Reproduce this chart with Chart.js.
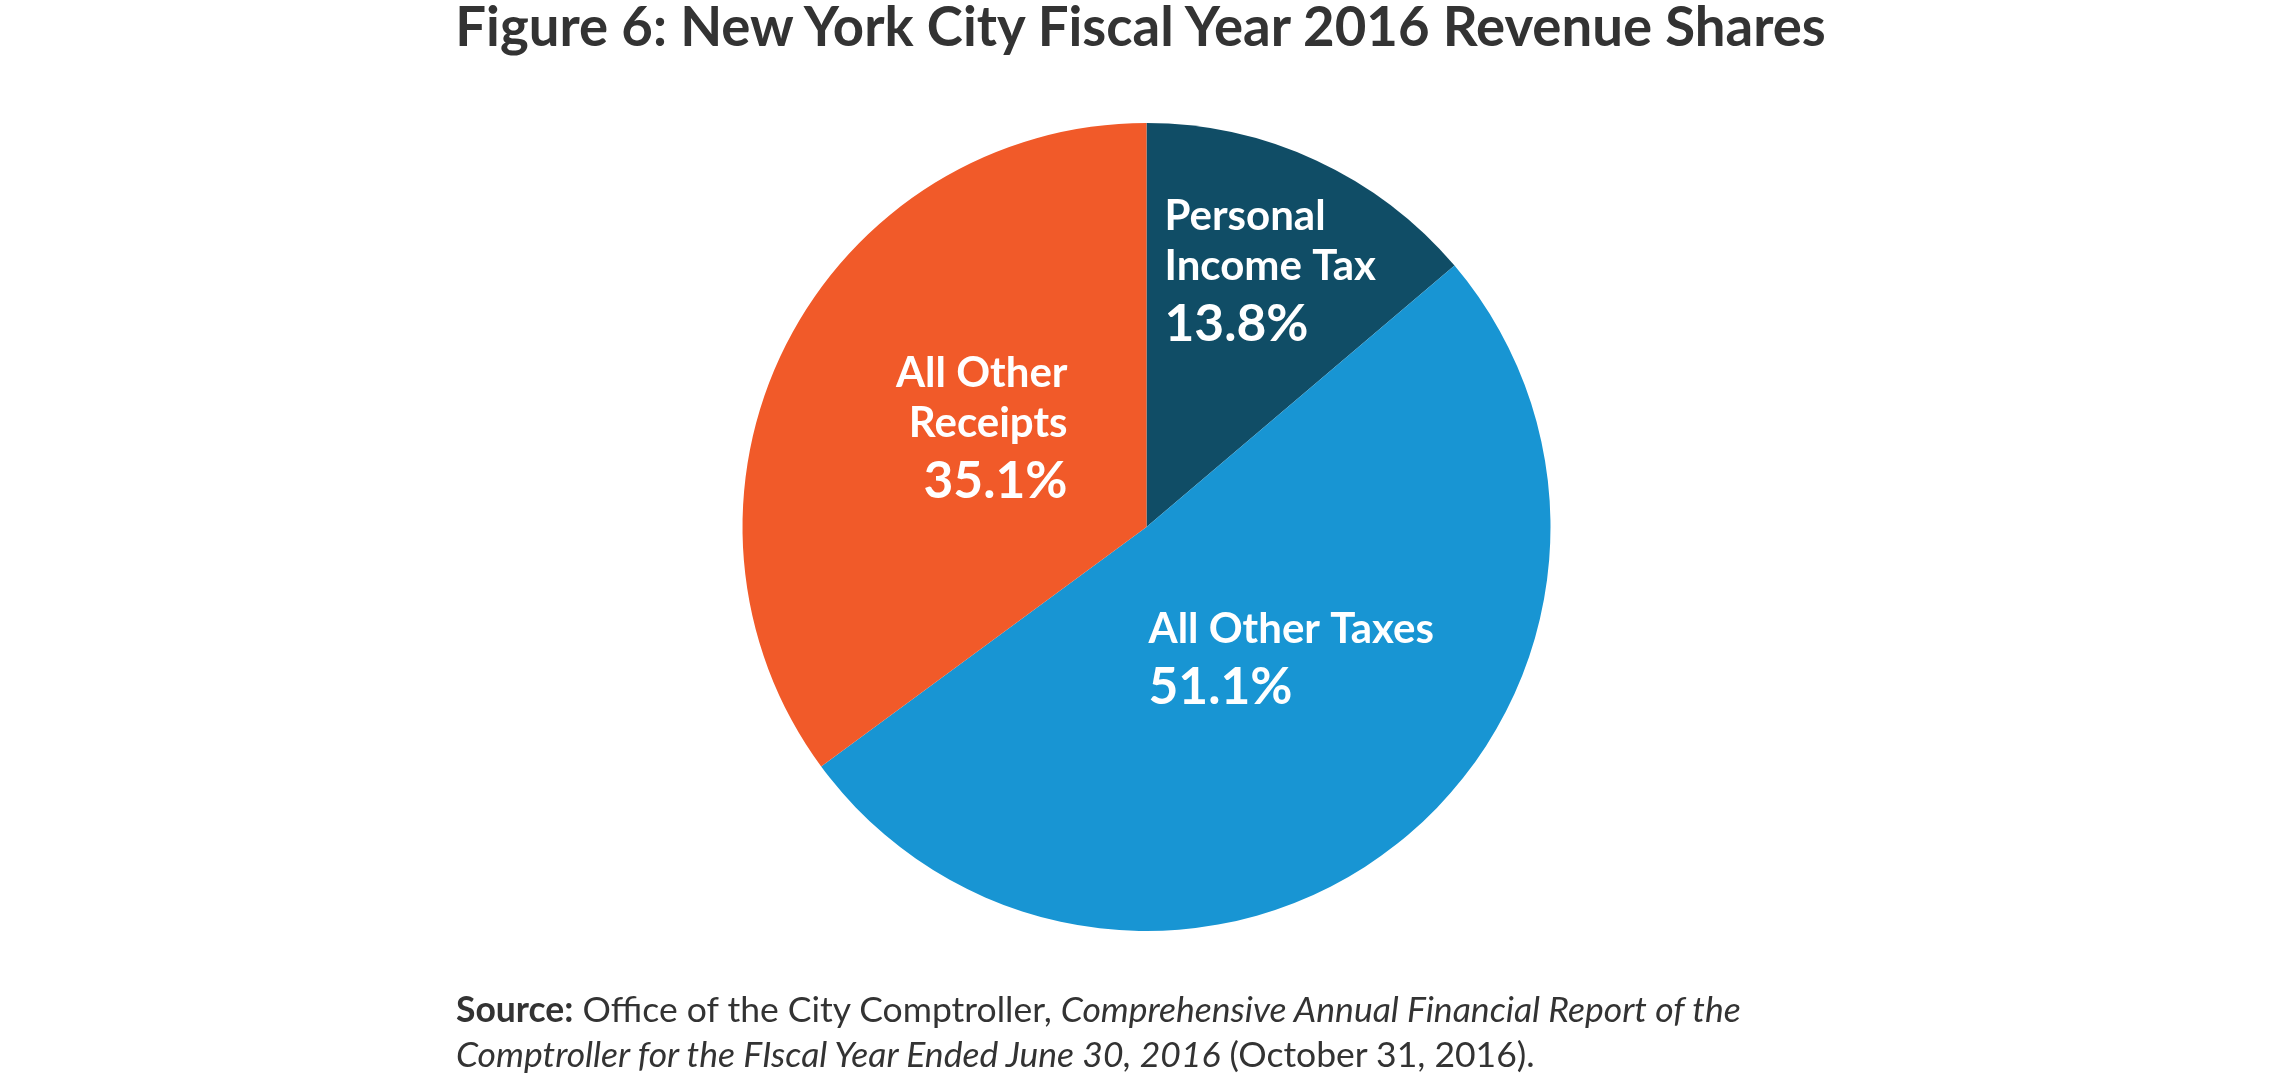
<!DOCTYPE html>
<html>
<head>
<meta charset="utf-8">
<script src="https://cdn.jsdelivr.net/npm/chart.js@4/dist/chart.umd.min.js"></script>
<style>
  body { margin: 0; background: #fff; }
  #wrap { position: relative; width: 2293px; height: 1075px; overflow: hidden; }
  #title {
    position: absolute; left: -6px; top: -2px; width: 2293px; text-align: center;
    font-family: Lato, sans-serif; font-weight: bold; font-size: 54.5px; line-height: 55px;
    color: #333333;
  }
  #source {
    position: absolute; left: 456px; top: 986px;
    font-family: Lato, sans-serif; font-size: 35.5px; line-height: 45px; color: #333333;
  }
  #source b { font-weight: bold; }
</style>
</head>
<body>
<div id="wrap">
  <canvas id="chart" width="2293" height="1075"></canvas>
  <div id="title">Figure 6: New York City Fiscal Year 2016 Revenue Shares</div>
  <div id="source"><b>Source:</b> Office of the City Comptroller, <i>Comprehensive Annual Financial Report of the</i><br><i>Comptroller for the FIscal Year Ended June 30, 2016</i> (October 31, 2016).</div>
</div>
<script>
const categories = ["Personal Income Tax", "All Other Taxes", "All Other Receipts"];
const shares = [13.8, 51.1, 35.1];
const colors = ["#104D66", "#1895D3", "#F15A29"];
const labelLines = [["Personal", "Income Tax"], ["All Other Taxes"], ["All Other", "Receipts"]];

// label placement relative to pie centre (px)
const labelPos = [
  { x: 18, y: -297, align: "left" },
  { x: 2, y: 116, align: "left" },
  { x: -79, y: -140, align: "right" }
];

const sliceLabels = {
  id: "sliceLabels",
  afterDatasetsDraw(chart) {
    const ctx = chart.ctx;
    const arc = chart.getDatasetMeta(0).data[0];
    const cx = arc.x, cy = arc.y;
    ctx.save();
    ctx.fillStyle = "#ffffff";
    ctx.textBaseline = "alphabetic";
    labelLines.forEach((lines, i) => {
      const p = labelPos[i];
      ctx.textAlign = p.align;
      let y = cy + p.y;
      ctx.font = "bold 42px Lato";
      lines.forEach(line => {
        ctx.fillText(line, cx + p.x, y);
        y += 50;
      });
      ctx.font = "bold 51.5px Lato";
      ctx.fillText(shares[i].toFixed(1) + "%", cx + p.x, y + 11);
    });
    ctx.restore();
  }
};

new Chart(document.getElementById("chart"), {
  type: "pie",
  data: {
    labels: categories,
    datasets: [{
      data: shares,
      backgroundColor: colors,
      borderWidth: 0
    }]
  },
  options: {
    responsive: false,
    animation: false,
    layout: { padding: { top: 123, bottom: 144, left: 0, right: 0 } },
    plugins: {
      legend: { display: false },
      tooltip: { enabled: false }
    }
  },
  plugins: [sliceLabels]
});
</script>
</body>
</html>
